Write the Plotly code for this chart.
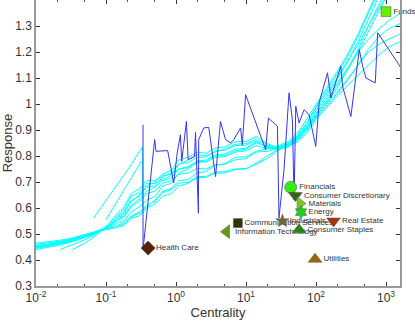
import plotly.graph_objects as go

# common centrality grid for the cyan curves
x_grid = [0.01, 0.015, 0.022, 0.033, 0.05, 0.07, 0.085, 0.11, 0.14, 0.18, 0.23, 0.3, 0.38,
          0.5, 0.65, 0.85, 1.1, 1.5, 2, 2.7, 3.6, 5, 7, 10, 14, 20, 28, 40, 55, 75, 100,
          140, 200, 280, 400, 560, 800, 1100, 1600]

curve_a = [0.440, 0.448, 0.458, 0.470, 0.485, 0.500, 0.512, 0.522, 0.530, 0.545, 0.570, 0.585, 0.610,
           0.625, 0.660, 0.670, 0.695, 0.700, 0.720, 0.722, 0.738, 0.740, 0.750, 0.752, 0.768, 0.790,
           0.820, 0.840, 0.870, 0.910, 0.960, 1.010, 1.070, 1.130, 1.200, 1.280, 1.360, 1.430, 1.520]
curve_b = [0.445, 0.452, 0.462, 0.473, 0.488, 0.503, 0.514, 0.528, 0.548, 0.565, 0.605, 0.625, 0.655,
           0.665, 0.695, 0.705, 0.730, 0.735, 0.752, 0.750, 0.765, 0.768, 0.785, 0.790, 0.815, 0.818,
           0.832, 0.845, 0.875, 0.920, 0.975, 1.030, 1.095, 1.160, 1.240, 1.330, 1.420, 1.500, 1.580]
curve_c = [0.450, 0.457, 0.466, 0.477, 0.491, 0.505, 0.515, 0.535, 0.565, 0.595, 0.645, 0.660, 0.695,
           0.695, 0.710, 0.725, 0.768, 0.785, 0.805, 0.800, 0.815, 0.828, 0.845, 0.848, 0.865, 0.842,
           0.835, 0.850, 0.880, 0.930, 0.990, 1.050, 1.115, 1.180, 1.260, 1.350, 1.440, 1.520, 1.600]
curve_d = [0.455, 0.461, 0.469, 0.480, 0.493, 0.507, 0.516, 0.525, 0.540, 0.552, 0.585, 0.605, 0.630,
           0.645, 0.685, 0.695, 0.735, 0.750, 0.775, 0.780, 0.800, 0.802, 0.820, 0.826, 0.850, 0.838,
           0.830, 0.840, 0.860, 0.900, 0.945, 0.990, 1.040, 1.090, 1.150, 1.210, 1.260, 1.290, 1.310]
curve_e = [0.460, 0.465, 0.472, 0.482, 0.495, 0.508, 0.517, 0.530, 0.552, 0.580, 0.625, 0.650, 0.680,
           0.685, 0.720, 0.735, 0.770, 0.775, 0.795, 0.796, 0.820, 0.822, 0.840, 0.842, 0.858, 0.834,
           0.825, 0.835, 0.855, 0.890, 0.940, 0.985, 1.030, 1.070, 1.110, 1.150, 1.190, 1.220, 1.240]
curve_f = [0.465, 0.470, 0.476, 0.485, 0.497, 0.509, 0.518, 0.522, 0.530, 0.538, 0.565, 0.580, 0.605,
           0.630, 0.665, 0.675, 0.705, 0.710, 0.735, 0.740, 0.765, 0.770, 0.795, 0.797, 0.818, 0.828,
           0.838, 0.855, 0.890, 0.945, 1.000, 1.060, 1.125, 1.190, 1.270, 1.360, 1.450, 1.530, 1.610]
curve_g = [None, None, 0.440, 0.458, 0.478, 0.498, 0.513, 0.540, 0.575, 0.605, 0.655, 0.675, 0.705,
           0.705, 0.730, 0.745, 0.785, 0.795, 0.815, 0.810, 0.830, 0.835, 0.855, 0.856, 0.875, 0.848,
           0.832, 0.845, 0.870, 0.915, 0.965, 1.020, 1.080, 1.140, 1.200, 1.250, 1.290, 1.320, 1.350]
curve_h = [None, None, None, 0.440, 0.465, 0.492, 0.510, 0.530, 0.555, 0.570, 0.610, 0.635, 0.665,
           0.680, 0.705, 0.715, 0.750, 0.760, 0.780, 0.776, 0.795, 0.797, 0.815, 0.820, 0.840, 0.828,
           0.826, 0.835, 0.865, 0.905, 0.950, 1.000, 1.060, 1.130, 1.210, 1.300, 1.390, 1.470, 1.550]
curve_i = [0.448, 0.455, 0.463, 0.474, 0.488, 0.502, 0.513, 0.518, 0.524, 0.532, 0.560, 0.570, 0.600,
           0.615, 0.645, 0.655, 0.685, 0.695, 0.716, 0.718, 0.734, 0.735, 0.748, 0.750, 0.772, 0.800,
           0.825, 0.845, 0.880, 0.930, 0.985, 1.040, 1.100, 1.165, 1.230, 1.300, 1.370, 1.440, 1.510]
curve_j = [0.452, 0.458, 0.467, 0.478, 0.492, 0.506, 0.515, 0.532, 0.560, 0.585, 0.630, 0.645, 0.685,
           0.700, 0.725, 0.730, 0.750, 0.755, 0.780, 0.785, 0.805, 0.808, 0.826, 0.830, 0.855, 0.836,
           0.828, 0.842, 0.868, 0.910, 0.955, 1.000, 1.045, 1.095, 1.150, 1.200, 1.230, 1.250, 1.270]

# two short steep curves
steep1_x = [0.066, 0.1, 0.15, 0.22, 0.33, 0.335]
steep1_y = [0.56, 0.63, 0.70, 0.76, 0.835, 0.60]
steep2_x = [0.1, 0.14, 0.2, 0.26, 0.32]
steep2_y = [0.555, 0.62, 0.69, 0.74, 0.78]

# noisy blue curve
blue_x = [0.338, 0.338, 0.496, 0.519, 0.76, 0.927, 1.04, 1.156, 1.207, 1.41, 1.49, 1.84, 1.90, 2.09,
          2.11, 2.49, 2.94, 3.67, 4.32, 5.10, 6.02, 6.71, 8.37, 8.85, 9.87, 19.1, 20.9, 28.1, 29.6,
          34.9, 41.2, 46.0, 48.6, 51.4, 57.3, 67.6, 79.7, 99.3, 110.7, 146, 163, 226, 240, 315,
          415, 464, 517, 703, 760, 1640]
blue_y = [0.920, 0.440, 0.863, 0.818, 0.821, 0.696, 0.811, 0.882, 0.779, 0.933, 0.786, 0.798, 0.891,
          0.580, 0.863, 0.908, 0.910, 0.721, 0.933, 0.863, 0.850, 0.863, 0.908, 0.843, 1.036, 0.824,
          0.946, 0.914, 0.562, 0.747, 1.043, 0.940, 0.631, 0.991, 0.927, 0.978, 0.959, 0.837, 1.004,
          1.120, 1.023, 1.145, 1.068, 0.952, 1.209, 1.145, 1.100, 1.081, 1.274, 1.139]

# sector points
sectors = ["Health Care", "Information Technology", "Communication Services", "Financials",
           "Consumer Discretionary", "Materials", "Energy", "Industrials", "Real Estate",
           "Consumer Staples", "Utilities", "Funds"]
sector_x = [0.40, 5.27, 7.65, 43.5, 50.8, 59.2, 61.2, 33.1, 178, 57.3, 97, 1000]
sector_y = [0.446, 0.509, 0.542, 0.680, 0.648, 0.617, 0.584, 0.550, 0.550, 0.516, 0.403, 1.355]

sector_colors = ["#552200", "#669911", "#333300", "#33ee11", "#336611", "#77cc22", "#22cc22",
                 "#776622", "#aa3300", "#228811", "#996600", "#66ee00"]
sector_symbols = ["diamond", "triangle-left", "square", "circle", "triangle-down", "triangle-right",
                  "hexagram", "star", "triangle-down", "triangle-up", "triangle-up", "square"]
sector_sizes = [11, 12, 9, 12, 12, 12, 10, 10, 12, 12, 12, 10]

fig = go.Figure()

for ys in [curve_a, curve_b, curve_c, curve_d, curve_e, curve_f, curve_g, curve_h, curve_i, curve_j]:
    fig.add_trace(go.Scatter(x=x_grid, y=ys, mode="lines", line=dict(color="#00ffff", width=1),
                             showlegend=False, connectgaps=False))
fig.add_trace(go.Scatter(x=steep1_x, y=steep1_y, mode="lines", line=dict(color="#00ffff", width=1),
                         showlegend=False))
fig.add_trace(go.Scatter(x=steep2_x, y=steep2_y, mode="lines", line=dict(color="#00ffff", width=1),
                         showlegend=False))

fig.add_trace(go.Scatter(x=blue_x, y=blue_y, mode="lines", line=dict(color="#3535ee", width=1),
                         showlegend=False))

for i in range(len(sectors)):
    fig.add_trace(go.Scatter(
        x=[sector_x[i]], y=[sector_y[i]], mode="markers+text", text=[sectors[i]],
        textposition="middle right",
        textfont=dict(size=8, color="#333333", family="Liberation Sans, Arial"),
        marker=dict(symbol=sector_symbols[i], size=sector_sizes[i], color=sector_colors[i],
                    line=dict(width=0.5, color="#555555")),
        showlegend=False, cliponaxis=False))

fig.update_layout(
    width=415, height=326,
    margin=dict(l=36, r=15, t=0, b=40, autoexpand=False),
    plot_bgcolor="white", paper_bgcolor="white",
    font=dict(family="Liberation Sans, Arial", size=12, color="#333333"),
)

fig.update_xaxes(
    type="log", range=[-2, 3.2], automargin=False,
    tickvals=[0.01, 0.1, 1, 10, 100, 1000],
    ticktext=["10<sup>-2</sup>", "10<sup>-1</sup>", "10<sup>0</sup>", "10<sup>1</sup>",
              "10<sup>2</sup>", "10<sup>3</sup>"],
    ticks="inside", ticklen=4, tickcolor="#333333",
    minor=dict(ticks="inside", ticklen=2, tickcolor="#555555", showgrid=False),
    showline=True, linecolor="#999999", linewidth=1.5, mirror="allticks",
    showgrid=False, zeroline=False,
    title=dict(text="Centrality", font=dict(size=13), standoff=4),
)
fig.update_yaxes(
    range=[0.3, 1.4], tick0=0.3, dtick=0.1, automargin=False,
    ticks="inside", ticklen=4, tickcolor="#333333",
    showline=True, linecolor="#999999", linewidth=1.5, mirror="allticks",
    showgrid=False, zeroline=False,
    title=dict(text="Response", font=dict(size=13), standoff=2),
)

# drop the page's default body margin so the figure sits at the window's corner
fig.write_html("out.html", config={"displayModeBar": False},
               post_script="document.body.style.margin = '0px';")
